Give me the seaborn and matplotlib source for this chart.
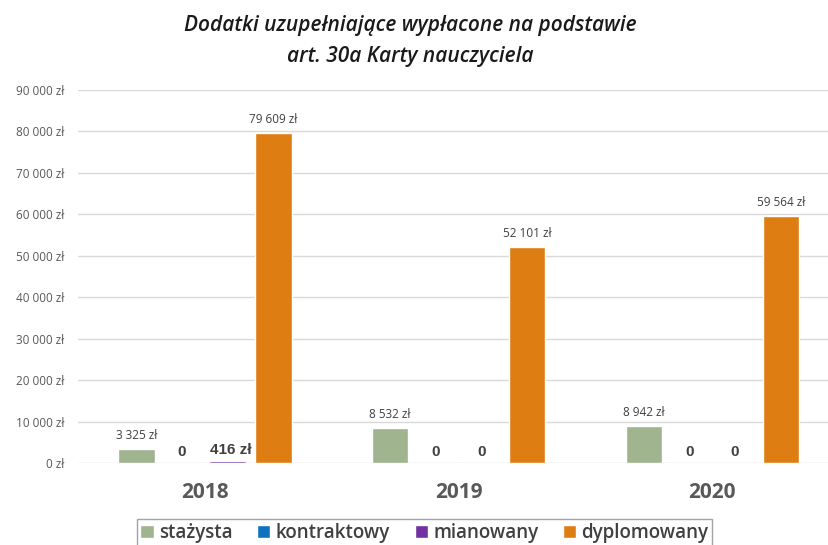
import pandas as pd
import numpy as np
import matplotlib
matplotlib.use("Agg")
import matplotlib.pyplot as plt
import seaborn as sns

years = ["2018", "2019", "2020"]
grades = ["stażysta", "kontraktowy", "mianowany", "dyplomowany"]
stazysta = [3325, 8532, 8942]
kontraktowy = [0, 0, 0]
mianowany = [416, 0, 0]
dyplomowany = [79609, 52101, 59564]
colors = ["#9fb48f", "#0d72bd", "#7131a0", "#de7d12"]

df = pd.DataFrame({
    "rok": years * 4,
    "stopien": [g for g in grades for _ in years],
    "kwota": stazysta + kontraktowy + mianowany + dyplomowany,
})

sns.set_style("white")
plt.rcParams["font.family"] = ["Open Sans", "DejaVu Sans"]

fig = plt.figure(figsize=(8.29, 5.45), dpi=100)
ax = fig.add_axes([78 / 829, 82 / 545, 1 - 78 / 829, (463 - 90) / 545])

sns.barplot(data=df, x="rok", y="kwota", hue="stopien", order=years,
            hue_order=grades, palette=colors, width=0.72, gap=0.2,
            saturation=1, ax=ax, errorbar=None)

def fmt(v):
    return f"{v:,.0f}".replace(",", " ") + " zł"

for cont, grade in zip(ax.containers, grades):
    vals = df[df["stopien"] == grade]["kwota"].tolist()
    for bar, v in zip(cont, vals):
        x = bar.get_x() + bar.get_width() / 2
        if v == 0:
            ax.annotate("0", (x, 0), xytext=(0, 3), textcoords="offset points",
                        ha="center", va="bottom", fontsize=11, fontweight="bold",
                        family="Liberation Sans", color="#404040")
        elif v < 1000:
            ax.annotate(fmt(v), (x, v), xytext=(2, 3), textcoords="offset points",
                        ha="center", va="bottom", fontsize=11, fontweight="bold",
                        family="Liberation Sans", color="#404040")
        else:
            ax.annotate(fmt(v), (x, v), xytext=(0, 5), textcoords="offset points",
                        ha="center", va="bottom", fontsize=8.5, color="#404040")

ax.set_ylim(0, 90000)
ax.set_xlim(-0.5, 2.46)
ax.set_yticks(np.arange(0, 90001, 10000))
ax.set_yticklabels([fmt(v) for v in range(0, 90001, 10000)], fontsize=8.5, color="#595959")
ax.yaxis.grid(True, color="#d9d9d9", linewidth=1)
ax.set_axisbelow(True)
ax.tick_params(axis="y", length=0, pad=10)
ax.tick_params(axis="x", length=0, pad=14)
for lab in ax.get_xticklabels():
    lab.set_fontsize(15)
    lab.set_fontweight("bold")
    lab.set_color("#595959")
sns.despine(ax=ax, left=True, bottom=True)
ax.set_xlabel("")
ax.set_ylabel("")

handles, labels = ax.get_legend_handles_labels()
ax.get_legend().remove()
fig.legend(handles, labels, loc="upper center", bbox_to_anchor=(0.512, 0.064), ncol=4,
           frameon=True, fancybox=False, edgecolor="#8c8c8c",
           prop={"size": 13.5, "weight": "semibold"},
           handlelength=0.7, handleheight=0.7, handletextpad=0.3, columnspacing=1.3,
           labelcolor="#404040", borderpad=0.2)

fig.suptitle("Dodatki uzupełniające wypłacone na podstawie\nart. 30a Karty nauczyciela",
             x=0.495, y=0.972, fontsize=15, fontstyle="italic", fontweight="semibold",
             color="#1a1a1a", linespacing=1.6)

fig.savefig("out.png", dpi=100)
